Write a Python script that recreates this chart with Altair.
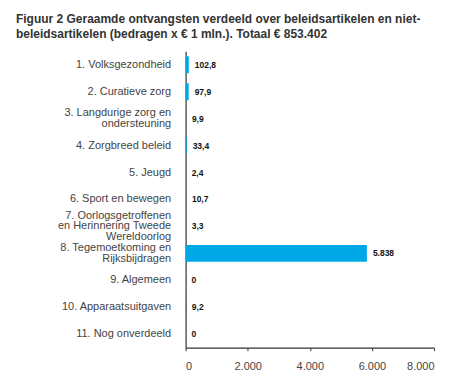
import altair as alt
import pandas as pd

categories = [
    "1. Volksgezondheid",
    "2. Curatieve zorg",
    "3. Langdurige zorg en|ondersteuning",
    "4. Zorgbreed beleid",
    "5. Jeugd",
    "6. Sport en bewegen",
    "7. Oorlogsgetroffenen|en Herinnering Tweede|Wereldoorlog",
    "8. Tegemoetkoming en|Rijksbijdragen",
    "9. Algemeen",
    "10. Apparaatsuitgaven",
    "11. Nog onverdeeld",
]
values = [102.8, 97.9, 9.9, 33.4, 2.4, 10.7, 3.3, 5838, 0, 9.2, 0]
value_labels = ["102,8", "97,9", "9,9", "33,4", "2,4", "10,7", "3,3", "5.838", "0", "9,2", "0"]
x_ticks = [0, 2000, 4000, 6000, 8000]

df = pd.DataFrame({"cat": categories, "val": values, "lab": value_labels})

FONT = "Liberation Sans"

y_enc = alt.Y(
    "cat:N",
    sort=categories,
    title=None,
    scale=alt.Scale(paddingInner=0.37, paddingOuter=0.185),
    axis=alt.Axis(
        labelExpr="split(datum.value, '|')",
        labelFont=FONT,
        labelFontSize=11,
        labelColor="#444444",
        labelLineHeight=10.5,
        labelPadding=15,
        labelOffset={
            "condition": [
                {"test": "length(split(datum.value, '|')) == 3", "value": -10.5},
                {"test": "length(split(datum.value, '|')) == 2", "value": -5.25},
            ],
            "value": 0,
        },
        ticks=False,
        domainColor="#333333",
        domainWidth=1.2,
        labelLimit=300,
    ),
)

x_enc = alt.X(
    "val:Q",
    title=None,
    scale=alt.Scale(domain=[0, 8000], nice=False),
    axis=alt.Axis(
        values=x_ticks,
        labelExpr="replace(format(datum.value, ','), ',', '.')",
        labelFont=FONT,
        labelFontSize=11,
        labelColor="#444444",
        labelPadding=10,
        tickSize=3,
        tickColor="#333333",
        domainColor="#333333",
        domainWidth=1.2,
        grid=False,
    ),
)

bars = alt.Chart(df).mark_bar(color="#00A8E8").encode(y=y_enc, x=x_enc)
texts = alt.Chart(df).mark_text(
    align="left", baseline="middle", dx=6, font=FONT, fontSize=8.5,
    fontWeight="bold", color="#111111"
).encode(y=alt.Y("cat:N", sort=categories), x="val:Q", text="lab:N")

chart = (
    alt.layer(bars, texts)
    .properties(
        width=249,
        height=297,
        autosize=alt.AutoSizeParams(type="none"),
        padding={"left": 178, "top": 43, "right": 20, "bottom": 27},
        title=alt.TitleParams(
            text=[
                "Figuur 2 Geraamde ontvangsten verdeeld over beleidsartikelen en niet-",
                "beleidsartikelen (bedragen x € 1 mln.). Totaal € 853.402",
            ],
            anchor="start",
            frame="group",
            dx=-170,
            offset=10,
            font=FONT,
            fontSize=12,
            fontWeight="bold",
            color="#333333",
            lineHeight=15,
        ),
    )
    .configure_view(stroke=None)
)

chart.save("out.html", embed_options={"renderer": "svg", "actions": False})
